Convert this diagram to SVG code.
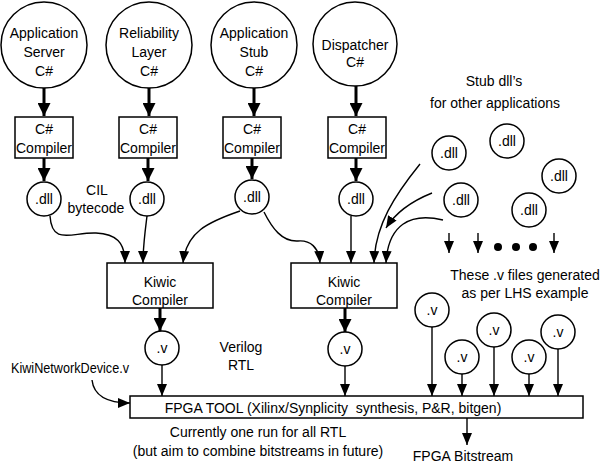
<svg xmlns="http://www.w3.org/2000/svg" width="603" height="464" viewBox="0 0 603 464">
<style>
text{font-family:"Liberation Sans",Arial,sans-serif;font-size:14px;fill:#000;text-anchor:middle}
.n{fill:#fff;stroke:#000;stroke-width:1.5}
.c{fill:none;stroke:#000;stroke-width:1.4}
.t{fill:none;stroke:#000;stroke-width:3}
</style>
<defs>
<marker id="a" viewBox="0 0 12 10" refX="12" refY="5" markerWidth="12" markerHeight="10" markerUnits="userSpaceOnUse" orient="auto"><path d="M0,0 L12,5 L0,10 z" fill="#000"/></marker>
<marker id="b" viewBox="0 0 12 12" refX="12" refY="6" markerWidth="13" markerHeight="13" markerUnits="userSpaceOnUse" orient="auto"><path d="M0,0 L12,6 L0,12 z" fill="#000"/></marker>
</defs>
<rect width="603" height="464" fill="#fff"/>
<g id="connectors">
<path class="t" d="M44,88 V116" marker-end="url(#b)"/>
<path class="t" d="M149,88 V116" marker-end="url(#b)"/>
<path class="t" d="M254,88 V116" marker-end="url(#b)"/>
<path class="t" d="M356,86 V116" marker-end="url(#b)"/>
<path class="t" d="M44,158 V181" marker-end="url(#b)"/>
<path class="t" d="M148,158 V181" marker-end="url(#b)"/>
<path class="t" d="M252,158 V179" marker-end="url(#b)"/>
<path class="t" d="M356,158 V181" marker-end="url(#b)"/>
<path class="c" d="M50,216 C52,246 72,232 96,233 C116,234 125,242 125,263" marker-end="url(#a)"/>
<path class="c" d="M147,216 C145,232 143,246 143,263" marker-end="url(#a)"/>
<path class="c" d="M240,211 C208,222 186,232 183,263" marker-end="url(#a)"/>
<path class="c" d="M264,212 C272,228 282,242 298,241 C310,240 319,247 320,263" marker-end="url(#a)"/>
<path class="c" d="M351,216 V263" marker-end="url(#a)"/>
<path class="c" d="M420,164 C395,195 375,225 374,263" marker-end="url(#a)"/>
<path class="c" d="M432,193 C412,201 396,212 386,228" marker-end="url(#a)"/>
<path class="c" d="M443,220 C410,212 388,225 386,263" marker-end="url(#a)"/>
<path class="c" d="M449,233 V253" marker-end="url(#a)"/>
<path class="c" d="M478,233 V253" marker-end="url(#a)"/>
<path class="c" d="M554,233 V253" marker-end="url(#a)"/>
<circle cx="498" cy="247" r="4"/>
<circle cx="516" cy="247" r="4"/>
<circle cx="533" cy="247" r="4"/>
<path class="t" d="M160,308 V331" marker-end="url(#b)"/>
<path class="t" d="M345,308 V332" marker-end="url(#b)"/>
<path class="c" d="M162,365 V396" marker-end="url(#a)"/>
<path class="c" d="M345,366 V396" marker-end="url(#a)"/>
<path class="c" d="M432,327 V396" marker-end="url(#a)"/>
<path class="c" d="M462,374 V396" marker-end="url(#a)"/>
<path class="c" d="M494,347 V396" marker-end="url(#a)"/>
<path class="c" d="M529,374 V396" marker-end="url(#a)"/>
<path class="c" d="M558,349 V396" marker-end="url(#a)"/>
<path class="c" d="M92,380 C94,398 110,403 130,403" marker-end="url(#a)"/>
<path class="c" d="M467,418 V445" marker-end="url(#a)"/>
</g>
<g id="appServer"><circle class="n" cx="44" cy="45" r="43"/><text x="44" y="38">Application</text><text x="44" y="57">Server</text><text x="44" y="76">C#</text></g>
<g id="relLayer"><circle class="n" cx="149" cy="45" r="43"/><text x="149" y="38">Reliability</text><text x="149" y="57">Layer</text><text x="149" y="76">C#</text></g>
<g id="appStub"><circle class="n" cx="254" cy="45" r="43"/><text x="254" y="38">Application</text><text x="254" y="57">Stub</text><text x="254" y="76">C#</text></g>
<g id="dispatcher"><circle class="n" cx="355" cy="44" r="42"/><text x="355" y="50">Dispatcher</text><text x="355" y="67">C#</text></g>
<g id="comp1"><rect class="n" x="15" y="117" width="58" height="41"/><text x="44" y="134">C#</text><text x="44" y="153">Compiler</text></g>
<g id="comp2"><rect class="n" x="119" y="117" width="58" height="41"/><text x="148" y="134">C#</text><text x="148" y="153">Compiler</text></g>
<g id="comp3"><rect class="n" x="223" y="117" width="58" height="41"/><text x="252" y="134">C#</text><text x="252" y="153">Compiler</text></g>
<g id="comp4"><rect class="n" x="328" y="117" width="58" height="41"/><text x="357" y="134">C#</text><text x="357" y="153">Compiler</text></g>
<g id="dll1"><circle class="n" cx="44" cy="199" r="17"/><text x="44" y="204">.dll</text></g>
<g id="dll2"><circle class="n" cx="147" cy="199" r="17"/><text x="147" y="204">.dll</text></g>
<g id="dll3"><circle class="n" cx="252" cy="197" r="17"/><text x="252" y="202">.dll</text></g>
<g id="dll4"><circle class="n" cx="356" cy="199" r="17"/><text x="356" y="204">.dll</text></g>
<g id="dll5"><circle class="n" cx="449" cy="153" r="17"/><text x="449" y="158">.dll</text></g>
<g id="dll6"><circle class="n" cx="507" cy="141" r="17"/><text x="507" y="146">.dll</text></g>
<g id="dll7"><circle class="n" cx="559" cy="176" r="17"/><text x="559" y="181">.dll</text></g>
<g id="dll8"><circle class="n" cx="529" cy="210" r="17"/><text x="529" y="215">.dll</text></g>
<g id="dll9"><circle class="n" cx="461" cy="200" r="17"/><text x="461" y="205">.dll</text></g>
<g id="kiwic1"><rect class="n" x="107" y="263" width="106" height="45"/><text x="160" y="287">Kiwic</text><text x="160" y="305">Compiler</text></g>
<g id="kiwic2"><rect class="n" x="291" y="263" width="106" height="45"/><text x="344" y="287">Kiwic</text><text x="344" y="305">Compiler</text></g>
<g id="v1"><circle class="n" cx="162" cy="348" r="17"/><text x="162" y="353">.v</text></g>
<g id="v2"><circle class="n" cx="345" cy="349" r="17"/><text x="345" y="354">.v</text></g>
<g id="v3"><circle class="n" cx="432" cy="310" r="17"/><text x="432" y="315">.v</text></g>
<g id="v4"><circle class="n" cx="462" cy="357" r="17"/><text x="462" y="362">.v</text></g>
<g id="v5"><circle class="n" cx="494" cy="330" r="17"/><text x="494" y="335">.v</text></g>
<g id="v6"><circle class="n" cx="529" cy="357" r="17"/><text x="529" y="362">.v</text></g>
<g id="v7"><circle class="n" cx="558" cy="332" r="17"/><text x="558" y="337">.v</text></g>
<g id="fpga"><rect class="n" x="130" y="396" width="453" height="22"/><text x="333" y="413" style="white-space:pre" xml:space="preserve">FPGA TOOL (Xilinx/Synplicity  synthesis, P&amp;R, bitgen)</text></g>
<g id="labels">
<text x="97" y="195">CIL</text><text x="96" y="213">bytecode</text>
<text x="494" y="86">Stub dll’s</text><text x="495" y="108">for other applications</text>
<text x="525" y="280">These .v files generated</text><text x="525" y="298">as per LHS example</text>
<text x="241" y="352">Verilog</text><text x="241" y="370">RTL</text>
<text x="70" y="373" textLength="118" lengthAdjust="spacingAndGlyphs">KiwiNetworkDevice.v</text>
<text x="258" y="437">Currently one run for all RTL</text>
<text x="258" y="456">(but aim to combine bitstreams in future)</text>
<text x="463" y="461">FPGA Bitstream</text>
</g>
</svg>
